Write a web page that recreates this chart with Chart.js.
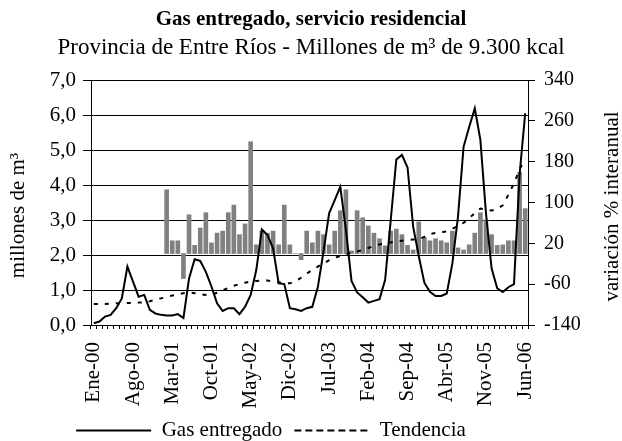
<!DOCTYPE html>
<html>
<head>
<meta charset="utf-8">
<script src="https://cdn.jsdelivr.net/npm/chart.js@4.4.1/dist/chart.umd.min.js"></script>
<style>html,body{margin:0;padding:0;background:#fff;}canvas{display:block;}</style>
</head>
<body>
<canvas id="c" width="622" height="441"></canvas>
<script>
const categories = [
  'Ene-00','Feb-00','Mar-00','Abr-00','May-00','Jun-00','Jul-00','Ago-00','Sep-00','Oct-00','Nov-00','Dic-00',
  'Ene-01','Feb-01','Mar-01','Abr-01','May-01','Jun-01','Jul-01','Ago-01','Sep-01','Oct-01','Nov-01','Dic-01',
  'Ene-02','Feb-02','Mar-02','Abr-02','May-02','Jun-02','Jul-02','Ago-02','Sep-02','Oct-02','Nov-02','Dic-02',
  'Ene-03','Feb-03','Mar-03','Abr-03','May-03','Jun-03','Jul-03','Ago-03','Sep-03','Oct-03','Nov-03','Dic-03',
  'Ene-04','Feb-04','Mar-04','Abr-04','May-04','Jun-04','Jul-04','Ago-04','Sep-04','Oct-04','Nov-04','Dic-04',
  'Ene-05','Feb-05','Mar-05','Abr-05','May-05','Jun-05','Jul-05','Ago-05','Sep-05','Oct-05','Nov-05','Dic-05',
  'Ene-06','Feb-06','Mar-06','Abr-06','May-06','Jun-06'
];

// Gas entregado (millones de m3)
const gasEntregado = [
  0.05,0.10,0.24,0.29,0.48,0.76,1.67,1.24,0.81,0.86,0.43,0.33,
  0.29,0.27,0.27,0.31,0.20,1.33,1.88,1.83,1.52,1.10,0.62,0.40,
  0.48,0.48,0.31,0.52,0.86,1.57,2.73,2.57,2.19,1.19,1.17,0.48,
  0.45,0.40,0.48,0.52,1.09,2.10,3.19,3.57,3.95,2.72,1.26,0.93,
  0.79,0.64,0.69,0.74,1.29,3.00,4.73,4.86,4.50,2.81,1.97,1.21,
  0.95,0.83,0.83,0.90,1.76,3.09,5.09,5.66,6.19,5.29,3.19,1.62,
  1.05,0.94,1.08,1.17,4.30,6.05
];

// Tendencia (millones de m3)
const tendencia = [
  0.60,0.60,0.60,0.61,0.62,0.62,0.63,0.63,0.64,0.65,0.68,0.72,
  0.76,0.80,0.84,0.87,0.91,0.93,0.91,0.88,0.86,0.87,0.92,0.99,
  1.06,1.12,1.17,1.21,1.24,1.26,1.27,1.27,1.25,1.22,1.19,1.19,
  1.25,1.35,1.47,1.57,1.67,1.76,1.85,1.92,1.97,2.02,2.07,2.10,
  2.14,2.20,2.26,2.30,2.33,2.36,2.39,2.41,2.43,2.44,2.45,2.52,
  2.60,2.63,2.64,2.68,2.75,2.83,2.92,3.05,3.20,3.33,3.30,3.27,
  3.32,3.42,3.72,4.05,4.45,4.75
];

// Variación % interanual
const variacionInteranual = [
  null,null,null,null,null,null,null,null,null,null,null,null,
  null,125,25,25,-49,76,16,50,80,21,40,44,
  80,95,37,58,219,17,44,40,44,17,95,17,
  0,-12,44,21,44,37,17,44,84,125,5,84,
  70,54,40,29,15,44,48,37,16,7,62,32,
  25,29,25,21,44,11,7,17,40,80,66,37,
  16,17,25,25,159,88
];

const leftTicks = [0,1,2,3,4,5,6,7];
const rightTicks = [-140,-60,20,100,180,260,340];
const labelEvery = 7;
const leftTitle = 'millones de m³';
const rightTitle = 'variación % interanual';

const FONT = "'Liberation Serif', 'Times New Roman', serif";
Chart.defaults.font.family = FONT;
Chart.defaults.color = '#000';

const customPlugin = {
  id: 'custom',
  afterLayout(chart) {
    const lg = chart.legend;
    if (lg) { lg.left -= 40; lg.right -= 40; }
  },
  afterDraw(chart) {
    const ctx = chart.ctx;
    const ca = chart.chartArea;
    const mid = (ca.top + ca.bottom) / 2;
    ctx.save();
    ctx.fillStyle = '#000';
    ctx.textAlign = 'center';
    ctx.textBaseline = 'middle';
    // left axis title
    ctx.save();
    ctx.font = "21px " + FONT;
    ctx.translate(chart.scales.y.left + 18, mid + 13);
    ctx.rotate(-Math.PI / 2);
    ctx.fillText(leftTitle, 0, 0);
    ctx.restore();
    // right axis title
    ctx.save();
    ctx.font = "21px " + FONT;
    ctx.translate(chart.scales.y1.right - 10, mid + 4);
    ctx.rotate(-Math.PI / 2);
    ctx.fillText(rightTitle, 0, 0);
    ctx.restore();
    ctx.restore();
  }
};

new Chart(document.getElementById('c'), {
  data: {
    labels: categories,
    datasets: [
      {
        type: 'line', label: 'Gas entregado', data: gasEntregado, yAxisID: 'y',
        borderColor: '#000', backgroundColor: '#000', borderWidth: 2,
        pointRadius: 0, tension: 0, order: 1
      },
      {
        type: 'line', label: 'Tendencia', data: tendencia, yAxisID: 'y',
        borderColor: '#000', backgroundColor: '#000', borderWidth: 2, borderDash: [4, 7],
        pointRadius: 0, tension: 0, order: 2
      },
      {
        type: 'bar', label: 'variación % interanual', data: variacionInteranual, yAxisID: 'y1',
        backgroundColor: '#808080', borderWidth: 0, barThickness: 4, order: 3
      }
    ]
  },
  options: {
    responsive: false,
    animation: false,
    devicePixelRatio: 1,
    layout: { padding: { top: 0, left: 0, right: 0, bottom: -10 } },
    plugins: {
      title: {
        display: true,
        text: 'Gas entregado, servicio residencial',
        font: { size: 21, weight: 'bold', family: FONT, lineHeight: 1.2 },
        color: '#000',
        padding: { top: 7, bottom: 0 }
      },
      subtitle: {
        display: true,
        text: 'Provincia de Entre Ríos - Millones de m³ de 9.300 kcal',
        font: { size: 23, family: FONT, lineHeight: 1.2 },
        color: '#000',
        padding: { top: 2, bottom: 18.2 }
      },
      legend: {
        display: true,
        position: 'bottom',
        labels: {
          usePointStyle: false,
          boxWidth: 75,
          boxHeight: 0,
          padding: 12,
          color: '#000',
          font: { size: 21, family: FONT },
          filter: (item) => item.datasetIndex !== 2
        }
      },
      tooltip: { enabled: false }
    },
    scales: {
      x: {
        type: 'category',
        offset: true,
        grid: { offset: true, drawOnChartArea: false, drawTicks: true, tickLength: 4, color: '#000' },
        border: { display: true, color: '#000', width: 1 },
        ticks: {
          autoSkip: false, minRotation: 90, maxRotation: 90, padding: 13,
          font: { size: 21, family: FONT },
          color: '#000',
          callback: (v, i) => (i % labelEvery === 0 ? categories[i] : '')
        },
        afterFit: (s) => { s.height = 83; }
      },
      y: {
        position: 'left',
        min: 0, max: 7,
        afterBuildTicks: (s) => { s.ticks = leftTicks.map(v => ({ value: v })); },
        grid: { drawOnChartArea: true, drawTicks: true, tickLength: 8, color: '#000', lineWidth: 1 },
        border: { display: true, color: '#000', width: 1 },
        ticks: {
          padding: 7, font: { size: 21, family: FONT }, color: '#000',
          callback: (v) => v.toFixed(1).replace('.', ',')
        },
        afterFit: (s) => { s.width = 91; }
      },
      y1: {
        position: 'right',
        min: -140, max: 340,
        afterBuildTicks: (s) => { s.ticks = rightTicks.map(v => ({ value: v })); },
        grid: { drawOnChartArea: false, drawTicks: true, tickLength: 7, color: '#000' },
        border: { display: true, color: '#000', width: 1 },
        ticks: {
          padding: 9, font: { size: 20, family: FONT }, color: '#000',
          callback: (v) => String(v)
        },
        afterFit: (s) => { s.width = 94; }
      }
    }
  },
  plugins: [customPlugin]
});
</script>
</body>
</html>
